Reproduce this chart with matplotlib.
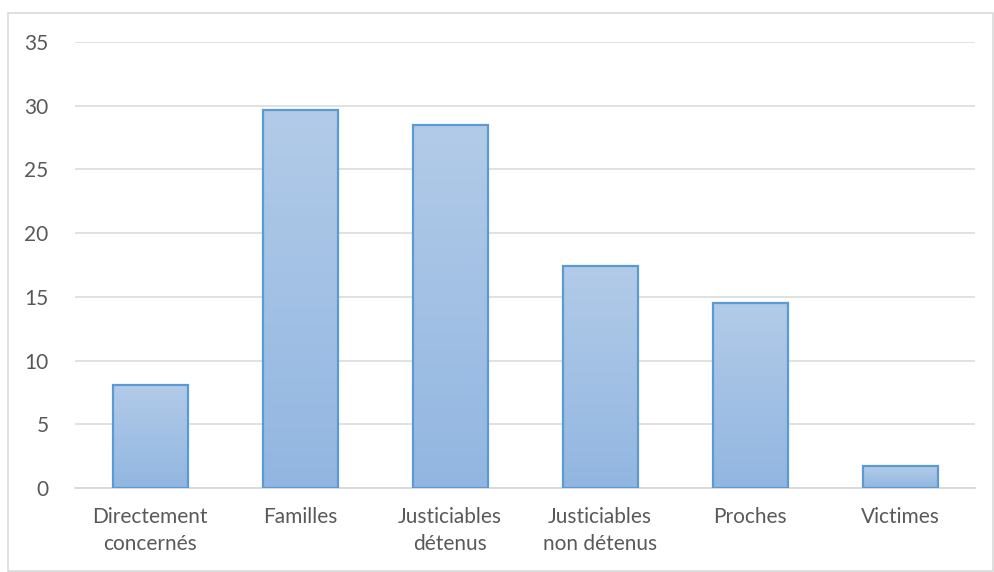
import matplotlib.pyplot as plt
import numpy as np
from matplotlib.patches import Rectangle
from matplotlib.colors import LinearSegmentedColormap

categories = ['Directement\nconcernés', 'Familles', 'Justiciables\ndétenus',
              'Justiciables\nnon détenus', 'Proches', 'Victimes']
values = [8.1, 29.7, 28.5, 17.4, 14.5, 1.7]
yticks = [0, 5, 10, 15, 20, 25, 30, 35]

plt.rcParams['font.family'] = ['Lato', 'DejaVu Sans']

fig = plt.figure(figsize=(9.94, 5.72), dpi=100)
# outer chart border
fig.patches.append(Rectangle((8 / 994, 1 - 571 / 572), 985 / 994, 558 / 572,
                             transform=fig.transFigure, fill=False,
                             edgecolor='#d9d9d9', linewidth=1.2))
ax = fig.add_axes([75 / 994, 1 - 488 / 572, 900 / 994, 446 / 572])

x = np.arange(len(categories))
bars = ax.bar(x, values, width=0.5, color='none', edgecolor='#5b9bd5',
              linewidth=1.6, zorder=3)

# vertical gradient inside each bar
grad = np.linspace(0, 1, 256).reshape(-1, 1)
cmap = LinearSegmentedColormap.from_list('g', ['#b2cbe8', '#92b6e1'])
for b in bars:
    x0, y0 = b.get_x(), b.get_y()
    w, h = b.get_width(), b.get_height()
    im = ax.imshow(grad, extent=[x0, x0 + w, y0, y0 + h], aspect='auto',
                   cmap=cmap, origin='upper', zorder=2)
    im.set_clip_path(b)

ax.set_xlim(-0.5, len(categories) - 0.5)
ax.set_ylim(0, 35)
ax.set_yticks(yticks)
ax.set_xticks(x)
ax.set_xticklabels(categories, linespacing=1.4)
ax.yaxis.grid(True, color='#d9d9d9', linewidth=1.1, zorder=0)
ax.set_axisbelow(True)
for s in ['top', 'right', 'left']:
    ax.spines[s].set_visible(False)
ax.spines['bottom'].set_color('#d9d9d9')
ax.spines['bottom'].set_linewidth(1.3)
ax.tick_params(axis='both', length=0, labelsize=15, colors='#595959')
ax.tick_params(axis='y', pad=19)
ax.tick_params(axis='x', pad=14)

fig.savefig('out.png', dpi=100)
